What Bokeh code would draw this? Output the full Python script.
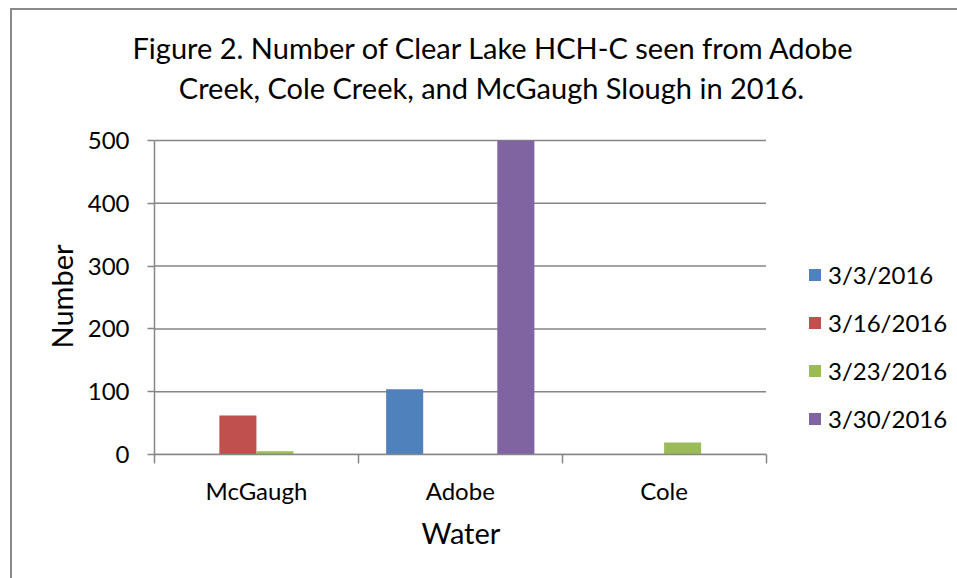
from bokeh.plotting import figure
from bokeh.models import (Range1d, FixedTicker, LinearAxis, Legend, LegendItem, Label, Title,
                          ColumnDataSource)
from bokeh.embed import file_html
from bokeh.resources import INLINE

categories = ["McGaugh", "Adobe", "Cole"]
dates = ["3/3/2016", "3/16/2016", "3/23/2016", "3/30/2016"]
v_0303 = [0, 104, 0]
v_0316 = [62, 0, 0]
v_0323 = [5, 0, 19]
v_0330 = [0, 500, 0]
series = [v_0303, v_0316, v_0323, v_0330]
colors = ["#4F81BD", "#C0504D", "#9BBB59", "#8064A2"]
y_ticks = [0, 100, 200, 300, 400, 500]
y_max = 500
title_lines = ["Figure 2.  Number of Clear Lake HCH-C seen from Adobe",
               "Creek, Cole Creek, and McGaugh Slough in 2016."]
x_title = "Water"
y_title = "Number"

FONT = "Lato"
GRAY = "#868686"

# layout geometry (page pixels)
W, H = 947, 570
ML, MT = 10, 8
BORDER = 2
MIN_L, MIN_T, MIN_B = 142, 62, 126
FRAME_L = ML + BORDER + MIN_L
FRAME_T = MT + BORDER + MIN_T
FRAME_R = ML + BORDER + W - BORDER
FRAME_B = MT + BORDER + H - MIN_B
PLOT_R, PLOT_T = 764, 140

n = len(categories)
nser = len(series)
bw = 1.0 / (nser + 1.5)
x_end = n * (FRAME_R - FRAME_L) / (PLOT_R - FRAME_L)
y_end = y_max * (FRAME_B - FRAME_T) / (FRAME_B - PLOT_T)

p = figure(width=W, height=H, x_range=Range1d(0, x_end), y_range=Range1d(0, y_end),
           output_backend="svg", toolbar_location=None, x_axis_type=None,
           min_border_left=MIN_L, min_border_right=0, min_border_top=MIN_T, min_border_bottom=MIN_B,
           margin=(MT, 0, 0, ML))
p.styles = {"border-left": "2px solid #898989", "border-top": "2px solid #898989"}
p.outline_line_color = None
p.xgrid.grid_line_color = None
p.ygrid.grid_line_color = None

# horizontal gridlines over the category span only
p.segment(x0=[0] * len(y_ticks), x1=[n] * len(y_ticks), y0=y_ticks, y1=y_ticks,
          line_color=GRAY, line_width=1.5)

centers = [i + 0.5 for i in range(n)]
bounds = [float(i) for i in range(n + 1)]

renderers = []
for k, vals in enumerate(series):
    xs = [c + (k - (nser - 1) / 2) * bw for c in centers]
    src = ColumnDataSource(dict(x=xs, top=vals))
    r = p.vbar(x="x", top="top", bottom=0, width=bw, source=src, fill_color=colors[k], line_color=None)
    renderers.append(r)

xaxis = LinearAxis(ticker=FixedTicker(ticks=centers, minor_ticks=bounds),
                   major_label_overrides={c: lab for c, lab in zip(centers, categories)},
                   bounds=(0, n))
xaxis.major_tick_out = 0
xaxis.major_tick_in = 0
xaxis.minor_tick_out = 9
xaxis.minor_tick_in = 0
xaxis.minor_tick_line_color = GRAY
xaxis.minor_tick_line_width = 1.5
xaxis.axis_line_color = GRAY
xaxis.axis_line_width = 1.5
xaxis.major_label_text_font = FONT
xaxis.major_label_text_font_size = "24px"
xaxis.major_label_text_color = "black"
xaxis.major_label_standoff = 12
p.add_layout(xaxis, "below")

ya = p.yaxis[0]
ya.bounds = (0, y_max)
ya.ticker = FixedTicker(ticks=y_ticks, minor_ticks=[])
ya.major_tick_out = 7
ya.major_tick_in = 0
ya.major_tick_line_color = GRAY
ya.major_tick_line_width = 1.5
ya.axis_line_color = GRAY
ya.axis_line_width = 1.5
ya.major_label_text_font = FONT
ya.major_label_text_font_size = "24px"
ya.major_label_text_color = "black"
ya.major_label_standoff = 18

# axis titles as panel titles so they can be centred on the category span
p.add_layout(Title(text=x_title, align="left", offset=421 - FRAME_L, vertical_align="top",
                   standoff=14, text_font=FONT, text_font_size="29px",
                   text_font_style="normal", text_color="black"), "below")
p.add_layout(Title(text=y_title, align="left", offset=FRAME_B - 348, vertical_align="bottom",
                   standoff=12, text_font=FONT, text_font_size="29px",
                   text_font_style="normal", text_color="black"), "left")

legend = Legend(items=[LegendItem(label=d, renderers=[r]) for d, r in zip(dates, renderers)],
                location=(807 - FRAME_L, FRAME_B - 433), orientation="vertical")
legend.border_line_color = None
legend.background_fill_alpha = 0
legend.padding = 0
legend.margin = 0
legend.glyph_width = 15
legend.glyph_height = 15
legend.label_standoff = 6
legend.spacing = 19
legend.label_text_font = FONT
legend.label_text_font_size = "24px"
legend.label_text_color = "black"
p.add_layout(legend, "center")

# chart title: first line above the frame, second line inside it
p.add_layout(Title(text=title_lines[0], align="left", offset=132 - FRAME_L, standoff=16,
                   text_font=FONT, text_font_size="29px", text_font_style="normal",
                   text_color="black"), "above")
p.add_layout(Label(x=491 - FRAME_L, y=FRAME_B - 87, x_units="screen", y_units="screen",
                   text=title_lines[1], text_align="center", text_baseline="alphabetic",
                   text_font=FONT, text_font_size="29px", text_color="black"))

open("out.html", "w").write(file_html(p, INLINE))
